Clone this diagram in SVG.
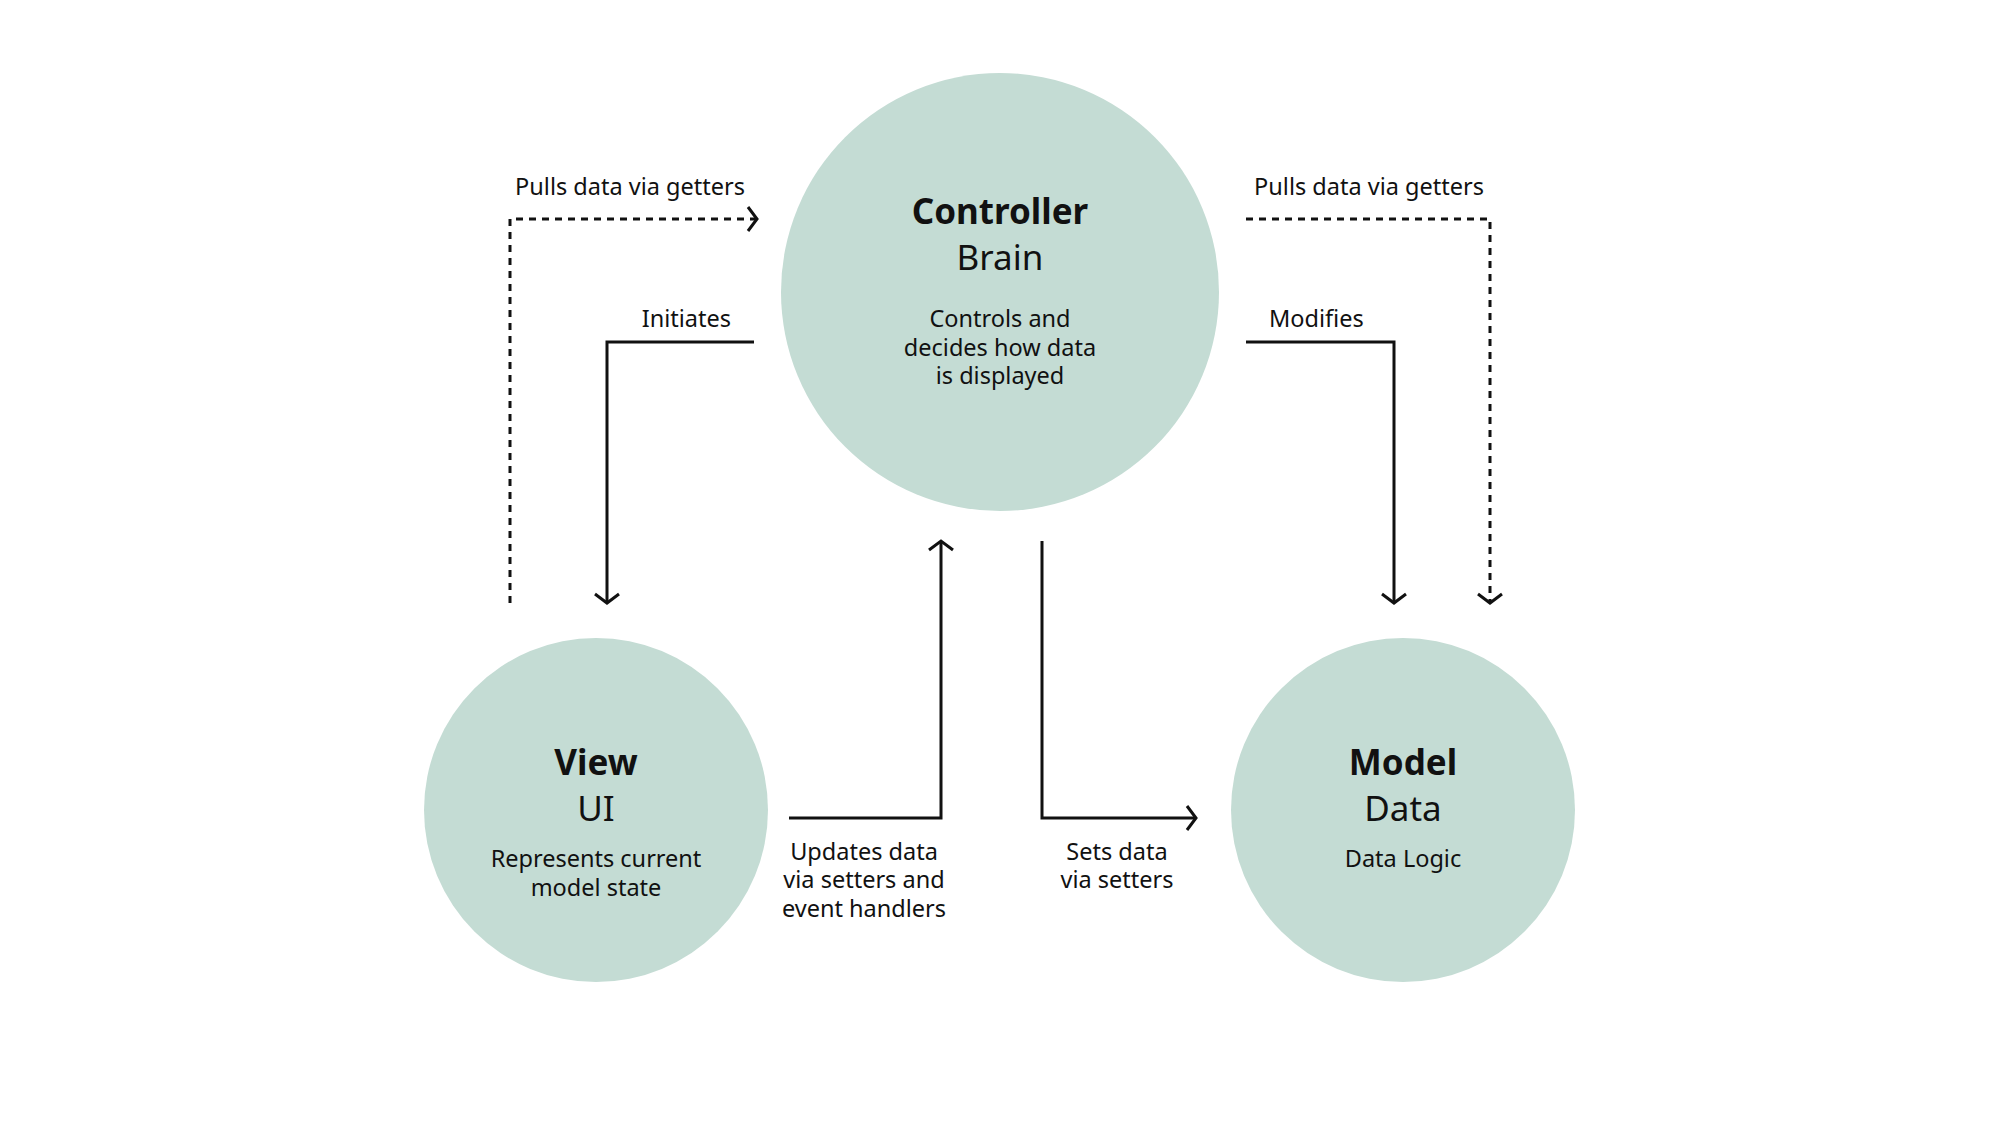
<svg xmlns="http://www.w3.org/2000/svg" width="2000" height="1125" viewBox="0 0 2000 1125">
<style>
.node{fill:#c4dcd4}
text{font-family:"Noto Sans","Liberation Sans",sans-serif;fill:#111;text-anchor:middle}
.t{font-size:35px;font-weight:bold}
.s{font-size:35px}
.d{font-size:23.5px}
.l{font-size:23.5px}
.c{fill:none;stroke:#111;stroke-width:3}
.dot{stroke-dasharray:7 6}
</style>
<defs>
<marker id="a" markerUnits="userSpaceOnUse" markerWidth="34" markerHeight="34" refX="17" refY="17" orient="auto">
<path d="M8,5 L17,17 L8,29" fill="none" stroke="#111" stroke-width="3"/>
</marker>
</defs>
<rect width="2000" height="1125" fill="#fff"/>
<g transform="translate(-5,0)">
<g id="controller">
<circle class="node" cx="1005" cy="292" r="219"/>
<text class="t" x="1005" y="224">Controller</text>
<text class="s" x="1005" y="270">Brain</text>
<text class="d" x="1005" y="327">Controls and</text>
<text class="d" x="1005" y="356">decides how data</text>
<text class="d" x="1005" y="384">is displayed</text>
</g>
<g id="view">
<circle class="node" cx="601" cy="810" r="172"/>
<text class="t" x="601" y="775">View</text>
<text class="s" x="601" y="821">UI</text>
<text class="d" x="601" y="867">Represents current</text>
<text class="d" x="601" y="896">model state</text>
</g>
<g id="model">
<circle class="node" cx="1408" cy="810" r="172"/>
<text class="t" x="1408" y="775">Model</text>
<text class="s" x="1408" y="821">Data</text>
<text class="d" x="1408" y="867">Data Logic</text>
</g>
<g id="connectors">
<polyline class="c dot" points="515,603 515,219 762,219" marker-end="url(#a)"/>
<polyline class="c" points="759,342 612,342 612,603" marker-end="url(#a)"/>
<polyline class="c dot" points="1251,219 1495,219 1495,603" marker-end="url(#a)"/>
<polyline class="c" points="1251,342 1399,342 1399,603" marker-end="url(#a)"/>
<polyline class="c" points="794,818 946,818 946,541" marker-end="url(#a)"/>
<polyline class="c" points="1047,541 1047,818 1201,818" marker-end="url(#a)"/>
<text class="l" x="635" y="195">Pulls data via getters</text>
<text class="l" x="1374" y="195">Pulls data via getters</text>
<text class="l" x="736" y="327" style="text-anchor:end">Initiates</text>
<text class="l" x="1274" y="327" style="text-anchor:start">Modifies</text>
<text class="l" x="869" y="860">Updates data</text>
<text class="l" x="869" y="888">via setters and</text>
<text class="l" x="869" y="917">event handlers</text>
<text class="l" x="1122" y="860">Sets data</text>
<text class="l" x="1122" y="888">via setters</text>
</g>
</g>
</svg>
